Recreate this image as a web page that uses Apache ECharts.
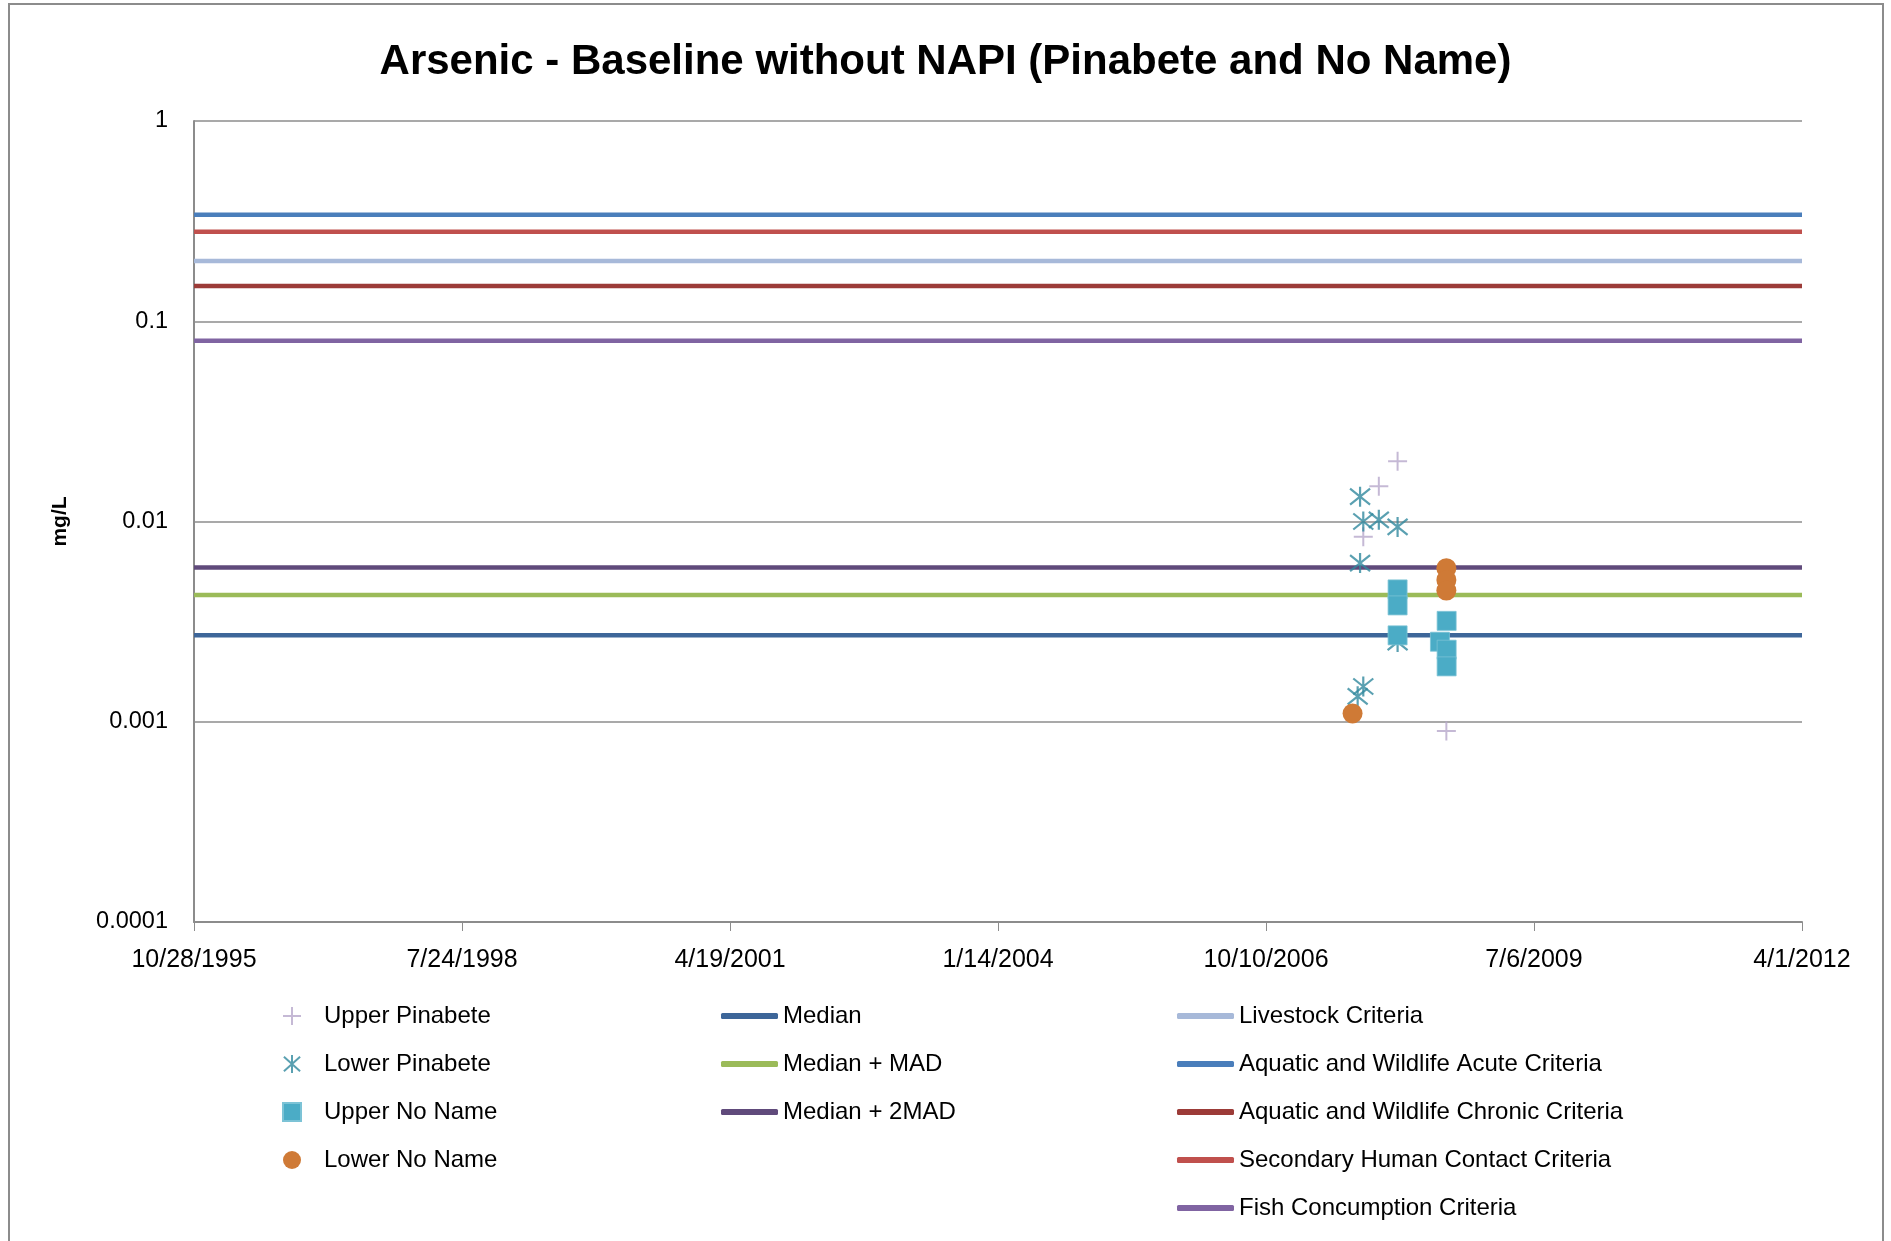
<!DOCTYPE html>
<html>
<head>
<meta charset="utf-8">
<script src="https://cdn.jsdelivr.net/npm/echarts@6/dist/echarts.min.js"></script>
<style>
html,body{margin:0;padding:0;background:#fff;}
#chart{width:1891px;height:1241px;}
</style>
</head>
<body>
<div id="chart"></div>
<script>
// ---------- data ----------
const titleText = 'Arsenic - Baseline without NAPI (Pinabete and No Name)';
const xAxisStart = '1995-10-28';
const xAxisEnd = '2012-04-01';
const xTickDays = 1000;
const yTickLabels = ['1', '0.1', '0.01', '0.001', '0.0001'];

const upperPinabeteDates  = ['2007-10-08', '2007-12-05', '2008-02-13', '2008-08-13'];
const upperPinabeteValues = [0.0084, 0.015, 0.020, 0.0009];

const lowerPinabeteDates  = ['2007-09-26', '2007-10-08', '2007-12-05', '2008-02-13', '2007-09-26', '2008-02-13', '2007-10-08', '2007-09-17'];
const lowerPinabeteValues = [0.0133, 0.0100, 0.0102, 0.0094, 0.0062, 0.0025, 0.0015, 0.00134];

const upperNoNameDates  = ['2008-02-13', '2008-02-13', '2008-02-13', '2008-08-14', '2008-07-20', '2008-08-14', '2008-08-14'];
const upperNoNameValues = [0.00458, 0.00381, 0.0027, 0.00319, 0.00251, 0.00229, 0.00189];

const lowerNoNameDates  = ['2007-08-29', '2008-08-13', '2008-08-13', '2008-08-13'];
const lowerNoNameValues = [0.0011, 0.00585, 0.00511, 0.00452];

const statNames  = ['Median', 'Median + MAD', 'Median + 2MAD'];
const statValues = [0.0027, 0.0043, 0.0059];

const criteriaNames  = ['Livestock Criteria', 'Aquatic and Wildlife Acute Criteria', 'Aquatic and Wildlife Chronic Criteria', 'Secondary Human Contact Criteria', 'Fish Concumption Criteria'];
const criteriaValues = [0.2, 0.34, 0.15, 0.28, 0.08];

// ---------- styles ----------
const statColors = ['#3D6699', '#9BBB59', '#604A7B'];
const criteriaColors = ['#A7B9D9', '#4A7EBB', '#9C3B38', '#C0504D', '#8064A2'];
const FONT = "'Liberation Sans', Arial, sans-serif";

function serial(s) {
  const p = s.split('-').map(Number);
  return (Date.UTC(p[0], p[1] - 1, p[2]) - Date.UTC(1899, 11, 30)) / 86400000;
}
function serialLabel(v) {
  const d = new Date(Date.UTC(1899, 11, 30) + Math.round(v) * 86400000);
  return (d.getUTCMonth() + 1) + '/' + d.getUTCDate() + '/' + d.getUTCFullYear();
}
function pts(dates, vals) { return dates.map((d, i) => [serial(d), vals[i]]); }

const xMin = serial(xAxisStart), xMax = serial(xAxisEnd);

const plusPath = 'path://M10,0L10,20M0,10L20,10';
const starPath = 'path://M10,0L10,20M1,2L19,18M1,18L19,2';

const series = [];
function hline(name, v, color) {
  series.push({
    name: name, type: 'line', data: [[xMin, v], [xMax, v]],
    showSymbol: false, symbol: 'none', silent: true, z: 2,
    lineStyle: { color: color, width: 4.5 }, itemStyle: { color: color }
  });
}
statNames.forEach((n, i) => hline(n, statValues[i], statColors[i]));
criteriaNames.forEach((n, i) => hline(n, criteriaValues[i], criteriaColors[i]));

series.push({
  name: 'Upper Pinabete', type: 'scatter', z: 5, data: pts(upperPinabeteDates, upperPinabeteValues),
  symbol: plusPath, symbolSize: 19,
  itemStyle: { color: 'rgba(0,0,0,0)', borderColor: '#B7A8CB', borderWidth: 2 }
});
series.push({
  name: 'Lower Pinabete', type: 'scatter', z: 6, data: pts(lowerPinabeteDates, lowerPinabeteValues),
  symbol: starPath, symbolSize: 20,
  itemStyle: { color: 'rgba(0,0,0,0)', borderColor: '#31889E', borderWidth: 2.2 }
});
series.push({
  name: 'Upper No Name', type: 'scatter', z: 7, data: pts(upperNoNameDates, upperNoNameValues),
  symbol: 'rect', symbolSize: 19,
  itemStyle: { color: '#4BACC6', borderColor: '#7CC3D6', borderWidth: 0.8, opacity: 1 }
});
series.push({
  name: 'Lower No Name', type: 'scatter', z: 8, data: pts(lowerNoNameDates, lowerNoNameValues),
  symbol: 'circle', symbolSize: 20,
  itemStyle: { color: '#CF7A36', opacity: 1 }
});

const legendText = { fontFamily: FONT, fontSize: 24, color: '#000', lineHeight: 28 };

const option = {
  backgroundColor: '#ffffff',
  animation: false,
  title: {
    text: titleText, left: 'center', top: 36,
    textStyle: { fontFamily: FONT, fontSize: 42, fontWeight: 'bold', color: '#000' }
  },
  graphic: [{
    type: 'rect', shape: { x: 9, y: 4, width: 1874, height: 1300 },
    style: { fill: 'none', stroke: '#8C8C8C', lineWidth: 2 }, silent: true, z: -1
  }],
  grid: { left: 194, right: 89, top: 121, bottom: 319, containLabel: false },
  xAxis: {
    type: 'value', min: xMin, max: xMax, interval: xTickDays,
    axisLine: { show: true, lineStyle: { color: '#8C8C8C', width: 2 } },
    axisTick: { show: true, inside: false, length: 9, lineStyle: { color: '#8C8C8C', width: 1 } },
    splitLine: { show: false },
    axisLabel: { formatter: serialLabel, fontFamily: FONT, fontSize: 25, color: '#000', margin: 26 }
  },
  yAxis: {
    type: 'log', logBase: 10, min: 0.0001, max: 1,
    name: 'mg/L', nameLocation: 'middle', nameRotate: 90, nameGap: 123,
    nameTextStyle: { fontFamily: FONT, fontSize: 21, fontWeight: 'bold', color: '#000' },
    axisLine: { show: true, lineStyle: { color: '#8C8C8C', width: 2 } },
    axisTick: { show: false },
    splitLine: { show: true, lineStyle: { color: '#8C8C8C', width: 1.5 } },
    axisLabel: {
      fontFamily: FONT, fontSize: 23.5, color: '#000', margin: 26,
      formatter: function (v) {
        const e = Math.round(Math.log10(v));
        return yTickLabels[-e] !== undefined ? yTickLabels[-e] : String(v);
      }
    }
  },
  legend: [
    {
      orient: 'vertical', left: 277, top: 997, itemGap: 20,
      itemWidth: 18, itemHeight: 18,
      textStyle: Object.assign({}, legendText, { padding: [0, 0, 0, 18] }),
      data: ['Upper Pinabete', 'Lower Pinabete', 'Upper No Name', 'Lower No Name']
    },
    {
      orient: 'vertical', left: 716, top: 997, itemGap: 20,
      itemWidth: 57, itemHeight: 6, textStyle: legendText,
      data: statNames.map(n => ({ name: n, icon: 'roundRect' }))
    },
    {
      orient: 'vertical', left: 1172, top: 997, itemGap: 20,
      itemWidth: 57, itemHeight: 6, textStyle: legendText,
      data: criteriaNames.map(n => ({ name: n, icon: 'roundRect' }))
    }
  ],
  series: series
};

const chart = echarts.init(document.getElementById('chart'), null, { renderer: 'canvas' });
chart.setOption(option);
</script>
</body>
</html>
